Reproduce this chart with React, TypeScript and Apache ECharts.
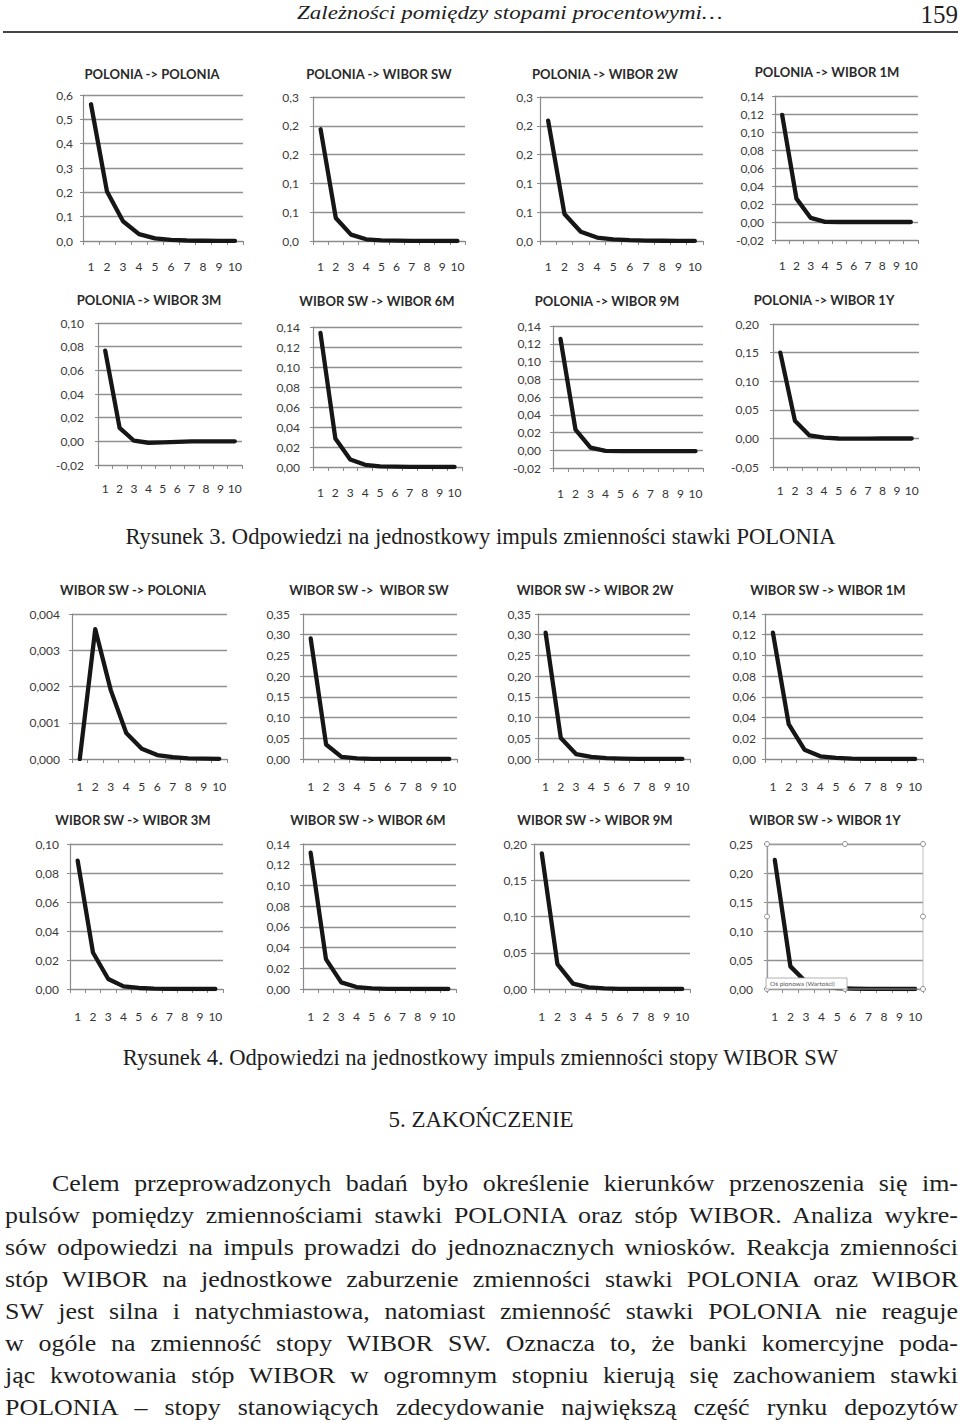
import React, { useEffect, useRef } from "react";
import * as echarts from "echarts";

// ---------- DATA ----------
const CATEGORIES = ["1", "2", "3", "4", "5", "6", "7", "8", "9", "10"];

const TITLES = [
  "POLONIA -> POLONIA",
  "POLONIA -> WIBOR SW",
  "POLONIA -> WIBOR 2W",
  "POLONIA -> WIBOR 1M",
  "POLONIA -> WIBOR 3M",
  "WIBOR SW -> WIBOR 6M",
  "POLONIA -> WIBOR 9M",
  "POLONIA -> WIBOR 1Y",
  "WIBOR SW -> POLONIA",
  "WIBOR SW ->  WIBOR SW",
  "WIBOR SW -> WIBOR 2W",
  "WIBOR SW -> WIBOR 1M",
  "WIBOR SW -> WIBOR 3M",
  "WIBOR SW -> WIBOR 6M",
  "WIBOR SW -> WIBOR 9M",
  "WIBOR SW -> WIBOR 1Y",
];

const Y_MIN = [0, 0, 0, -0.02, -0.02, 0, -0.02, -0.05, 0, 0, 0, 0, 0, 0, 0, 0];
const Y_MAX = [0.6, 0.25, 0.25, 0.14, 0.1, 0.14, 0.14, 0.2, 0.004, 0.35, 0.35, 0.14, 0.1, 0.14, 0.2, 0.25];
const Y_STEP = [0.1, 0.05, 0.05, 0.02, 0.02, 0.02, 0.02, 0.05, 0.001, 0.05, 0.05, 0.02, 0.02, 0.02, 0.05, 0.05];
const Y_DECIMALS = [1, 1, 1, 2, 2, 2, 2, 2, 3, 2, 2, 2, 2, 2, 2, 2];

const POLONIA_POLONIA = [0.562, 0.203, 0.081, 0.028, 0.011, 0.005, 0.002, 0.001, 0.0005, 0.0002];
const POLONIA_WIBOR_SW = [0.194, 0.04, 0.011, 0.003, 0.001, 0.0005, 0.0002, 0.0001, 0, 0];
const POLONIA_WIBOR_2W = [0.209, 0.047, 0.016, 0.006, 0.003, 0.0015, 0.0008, 0.0004, 0.0002, 0.0001];
const POLONIA_WIBOR_1M = [0.119, 0.026, 0.0045, 0.0002, 0, 0, 0, 0, 0, 0];
const POLONIA_WIBOR_3M = [0.0766, 0.0113, 0.0005, -0.0012, -0.0008, -0.0004, -0.0001, 0, 0, 0];
const WIBORSW_WIBOR_6M_A = [0.134, 0.0285, 0.0075, 0.0022, 0.0007, 0.0003, 0.0001, 0.0001, 0, 0];
const POLONIA_WIBOR_9M = [0.1255, 0.0233, 0.003, -0.0008, -0.001, -0.001, -0.001, -0.001, -0.001, -0.001];
const POLONIA_WIBOR_1Y = [0.15, 0.031, 0.0052, 0.0012, -0.0002, -0.0004, -0.0003, -0.0002, -0.0002, -0.0002];
const WIBORSW_POLONIA = [0, 0.00358, 0.0019, 0.00072, 0.00028, 0.00011, 0.00005, 0.00002, 0.00001, 0.000005];
const WIBORSW_WIBOR_SW = [0.291, 0.035, 0.005, 0.0015, 0.0005, 0.0002, 0.0001, 0, 0, 0];
const WIBORSW_WIBOR_2W = [0.305, 0.0506, 0.012, 0.005, 0.002, 0.001, 0.0005, 0.0003, 0.0002, 0.0001];
const WIBORSW_WIBOR_1M = [0.122, 0.0337, 0.009, 0.0026, 0.001, 0.0004, 0.0002, 0.0001, 0, 0];
const WIBORSW_WIBOR_3M = [0.0885, 0.0252, 0.0069, 0.0018, 0.0007, 0.0002, 0.0001, 0, 0, 0];
const WIBORSW_WIBOR_6M = [0.1316, 0.0289, 0.0064, 0.0019, 0.0006, 0.0002, 0.0001, 0, 0, 0];
const WIBORSW_WIBOR_9M = [0.187, 0.0344, 0.0073, 0.0023, 0.0009, 0.0003, 0.0001, 0, 0, 0];
const WIBORSW_WIBOR_1Y = [0.2225, 0.039, 0.012, 0.004, 0.0015, 0.0006, 0.0002, 0.0001, 0, 0];

const SERIES_VALUES = [
  POLONIA_POLONIA, POLONIA_WIBOR_SW, POLONIA_WIBOR_2W, POLONIA_WIBOR_1M,
  POLONIA_WIBOR_3M, WIBORSW_WIBOR_6M_A, POLONIA_WIBOR_9M, POLONIA_WIBOR_1Y,
  WIBORSW_POLONIA, WIBORSW_WIBOR_SW, WIBORSW_WIBOR_2W, WIBORSW_WIBOR_1M,
  WIBORSW_WIBOR_3M, WIBORSW_WIBOR_6M, WIBORSW_WIBOR_9M, WIBORSW_WIBOR_1Y,
];

const HEADER_TITLE = "Zależności pomiędzy stopami procentowymi…";
const PAGE_NUMBER = "159";
const CAPTION_3 = "Rysunek 3. Odpowiedzi na jednostkowy impuls zmienności stawki POLONIA";
const CAPTION_4 = "Rysunek 4. Odpowiedzi na jednostkowy impuls zmienności stopy WIBOR SW";
const SECTION_HEADING = "5. ZAKOŃCZENIE";
const BODY_LINES = [
  "Celem przeprowadzonych badań było określenie kierunków przenoszenia się im-",
  "pulsów pomiędzy zmiennościami stawki POLONIA oraz stóp WIBOR. Analiza wykre-",
  "sów odpowiedzi na impuls prowadzi do jednoznacznych wniosków. Reakcja zmienności",
  "stóp WIBOR na jednostkowe zaburzenie zmienności stawki POLONIA oraz WIBOR",
  "SW jest silna i natychmiastowa, natomiast zmienność stawki POLONIA nie reaguje",
  "w ogóle na zmienność stopy WIBOR SW. Oznacza to, że banki komercyjne poda-",
  "jąc kwotowania stóp WIBOR w ogromnym stopniu kierują się zachowaniem stawki",
  "POLONIA – stopy stanowiących zdecydowanie największą część rynku depozytów",
];
const TOOLTIP_TEXT = "Oś pionowa (Wartości)";

// ---------- LAYOUT (pixels) ----------
// plot area: l, t, r, b ; title centre tx, ty ; x-label margin m ; y-label margin ym
const PLOTS = [
  { l: 83, t: 95, r: 243, b: 241, tx: 152, ty: 74, m: 19, ym: 10 },
  { l: 313, t: 97, r: 465, b: 241, tx: 379, ty: 74, m: 19, ym: 14 },
  { l: 540, t: 97, r: 703, b: 241, tx: 605, ty: 74, m: 19, ym: 7 },
  { l: 775, t: 96, r: 918, b: 240, tx: 827, ty: 72, m: 19, ym: 11 },
  { l: 98, t: 323, r: 242, b: 465, tx: 149, ty: 300, m: 17, ym: 14 },
  { l: 313, t: 327, r: 462, b: 467, tx: 377, ty: 301, m: 19, ym: 13 },
  { l: 553, t: 326, r: 703, b: 468, tx: 607, ty: 301, m: 19, ym: 12 },
  { l: 773, t: 324, r: 919, b: 467, tx: 824, ty: 300, m: 17, ym: 14 },
  { l: 72, t: 614, r: 227, b: 759, tx: 133, ty: 590, m: 21, ym: 12 },
  { l: 303, t: 614, r: 457, b: 759, tx: 369, ty: 590, m: 21, ym: 13 },
  { l: 538, t: 614, r: 690, b: 759, tx: 595, ty: 590, m: 21, ym: 7 },
  { l: 765, t: 614, r: 923, b: 759, tx: 828, ty: 590, m: 21, ym: 9 },
  { l: 70, t: 844, r: 223, b: 989, tx: 133, ty: 820, m: 21, ym: 11 },
  { l: 303, t: 844, r: 456, b: 989, tx: 368, ty: 820, m: 21, ym: 13 },
  { l: 534, t: 844, r: 690, b: 989, tx: 595, ty: 820, m: 21, ym: 7 },
  { l: 767, t: 844, r: 923, b: 989, tx: 825, ty: 820, m: 21, ym: 14 },
];

const CHART_W = 960;
const CHART_H = 1030;
const FONT = "Lato, 'Open Sans', sans-serif";

function excelFormatter(d: number) {
  return (v: number) => {
    const p = Math.pow(10, d);
    const r = Math.round(v * p + 1e-9) / p;
    return r.toFixed(d).replace(".", ",");
  };
}

function buildOption() {
  const grid: any[] = [];
  const xAxis: any[] = [];
  const yAxis: any[] = [];
  const series: any[] = [];
  const graphic: any[] = [];

  PLOTS.forEach((p, i) => {
    grid.push({
      left: p.l,
      top: p.t,
      width: p.r - p.l,
      height: p.b - p.t,
      containLabel: false,
    });
    xAxis.push({
      type: "category",
      gridIndex: i,
      data: CATEGORIES,
      boundaryGap: true,
      axisLine: { show: true, onZero: false, lineStyle: { color: "#8a8a8a", width: 1.2 } },
      axisTick: { show: true, length: 4, lineStyle: { color: "#8a8a8a" } },
      axisLabel: {
        margin: p.m,
        color: "#333",
        fontFamily: FONT,
        fontSize: 12,
        interval: 0,
      },
      splitLine: { show: false },
    });
    yAxis.push({
      type: "value",
      gridIndex: i,
      min: Y_MIN[i],
      max: Y_MAX[i],
      interval: Y_STEP[i],
      axisLine: { show: true, lineStyle: { color: "#8a8a8a", width: 1.2 } },
      axisTick: { show: true, length: 3, lineStyle: { color: "#8a8a8a" } },
      axisLabel: {
        margin: p.ym,
        color: "#3a3a3a",
        fontFamily: FONT,
        fontSize: 12,
        formatter: excelFormatter(Y_DECIMALS[i]),
      },
      splitLine: { show: true, lineStyle: { color: "#909090", width: 1.4 } },
    });
    series.push({
      type: "line",
      xAxisIndex: i,
      yAxisIndex: i,
      data: SERIES_VALUES[i],
      symbol: "none",
      smooth: false,
      lineStyle: { color: "#161616", width: 4.3, join: "round", cap: "round" },
      z: 3,
    });
    graphic.push({
      type: "text",
      x: p.tx,
      y: p.ty,
      style: {
        text: TITLES[i],
        align: "center",
        verticalAlign: "middle",
        fill: "#2a2a2a",
        font: `bold 13px ${FONT}`,
      },
    });
  });

  // selection frame of the last chart (as in the reference screenshot)
  const s = PLOTS[15];
  const mx = (s.l + s.r) / 2;
  const my = (s.t + s.b) / 2;
  const handles = [
    [s.l, s.t], [mx, s.t], [s.r, s.t],
    [s.l, my], [s.r, my],
    [s.l, s.b], [mx, s.b], [s.r, s.b],
  ];
  graphic.push({
    type: "rect",
    shape: { x: s.l, y: s.t, width: s.r - s.l, height: s.b - s.t },
    style: { fill: "none", stroke: "#b0b0b0", lineWidth: 0.8 },
    z: 50,
  });
  handles.forEach(([x, y]) => {
    graphic.push({
      type: "circle",
      shape: { cx: x, cy: y, r: 2.5 },
      style: { fill: "#ffffff", stroke: "#8a8a8a", lineWidth: 1 },
      z: 60,
    });
  });
  graphic.push({
    type: "rect",
    shape: { x: s.l - 1, y: s.b - 11, width: 81, height: 11 },
    style: { fill: "#ffffff", stroke: "#a0a0a0", lineWidth: 0.8 },
    z: 70,
  });
  graphic.push({
    type: "text",
    x: s.l + 3,
    y: s.b - 5.5,
    style: {
      text: TOOLTIP_TEXT,
      align: "left",
      verticalAlign: "middle",
      fill: "#555",
      font: `6.5px ${FONT}`,
    },
    z: 71,
  });

  return {
    animation: false,
    backgroundColor: "#ffffff",
    grid,
    xAxis,
    yAxis,
    series,
    graphic,
  };
}

function Charts() {
  const ref = useRef<HTMLDivElement>(null);
  useEffect(() => {
    if (!ref.current) return;
    const chart = echarts.init(ref.current, undefined, { renderer: "svg" });
    chart.setOption(buildOption() as any);
    return () => chart.dispose();
  }, []);
  return (
    <div
      ref={ref}
      style={{ position: "absolute", left: 0, top: 0, width: CHART_W, height: CHART_H }}
    />
  );
}

const serif = "'Liberation Serif', 'DejaVu Serif', 'Times New Roman', serif";
const TEXT_COLOR = "#1e1e1e";
const BODY_SCALE = 1.08;
const HEADER_SCALE = 1.18;

export default function App() {
  return (
    <div
      style={{
        position: "absolute",
        left: 0,
        top: 0,
        width: 960,
        height: 1423,
        overflow: "hidden",
        background: "#ffffff",
        fontFamily: serif,
        color: TEXT_COLOR,
      }}
    >
      <Charts />
      {/* running header */}
      <div
        style={{
          position: "absolute",
          left: 297,
          top: 0,
          fontSize: 19.5,
          lineHeight: "25px",
          fontStyle: "italic",
          whiteSpace: "nowrap",
          transform: `scaleX(${HEADER_SCALE})`,
          transformOrigin: "0 0",
        }}
      >
        {HEADER_TITLE}
      </div>
      <div
        style={{
          position: "absolute",
          right: 2,
          top: 0,
          fontSize: 25,
          lineHeight: "30px",
          whiteSpace: "nowrap",
        }}
      >
        {PAGE_NUMBER}
      </div>
      <div
        style={{
          position: "absolute",
          left: 3,
          top: 31,
          width: 955,
          height: 2,
          background: "#444",
        }}
      />
      {/* captions */}
      <div
        style={{
          position: "absolute",
          left: 0,
          width: 961,
          top: 523,
          fontSize: 22.6,
          lineHeight: "28px",
          textAlign: "center",
          whiteSpace: "nowrap",
        }}
      >
        {CAPTION_3}
      </div>
      <div
        style={{
          position: "absolute",
          left: 0,
          width: 961,
          top: 1044,
          fontSize: 22.6,
          lineHeight: "28px",
          textAlign: "center",
          whiteSpace: "nowrap",
        }}
      >
        {CAPTION_4}
      </div>
      <div
        style={{
          position: "absolute",
          left: 0,
          width: 962,
          top: 1106,
          fontSize: 23,
          lineHeight: "28px",
          textAlign: "center",
          whiteSpace: "nowrap",
        }}
      >
        {SECTION_HEADING}
      </div>
      {/* body paragraph, one justified block per printed line */}
      {BODY_LINES.map((line, k) => {
        const left = k === 0 ? 52 : 5;
        const w = 958 - left;
        return (
          <div
            key={k}
            style={{
              position: "absolute",
              left,
              width: w / BODY_SCALE,
              top: 1167 + k * 32,
              fontSize: 24,
              lineHeight: "32px",
              textAlign: "justify",
              textAlignLast: "justify" as any,
              whiteSpace: "nowrap",
              transform: `scaleX(${BODY_SCALE})`,
              transformOrigin: "0 0",
            }}
          >
            {line}
          </div>
        );
      })}
    </div>
  );
}
